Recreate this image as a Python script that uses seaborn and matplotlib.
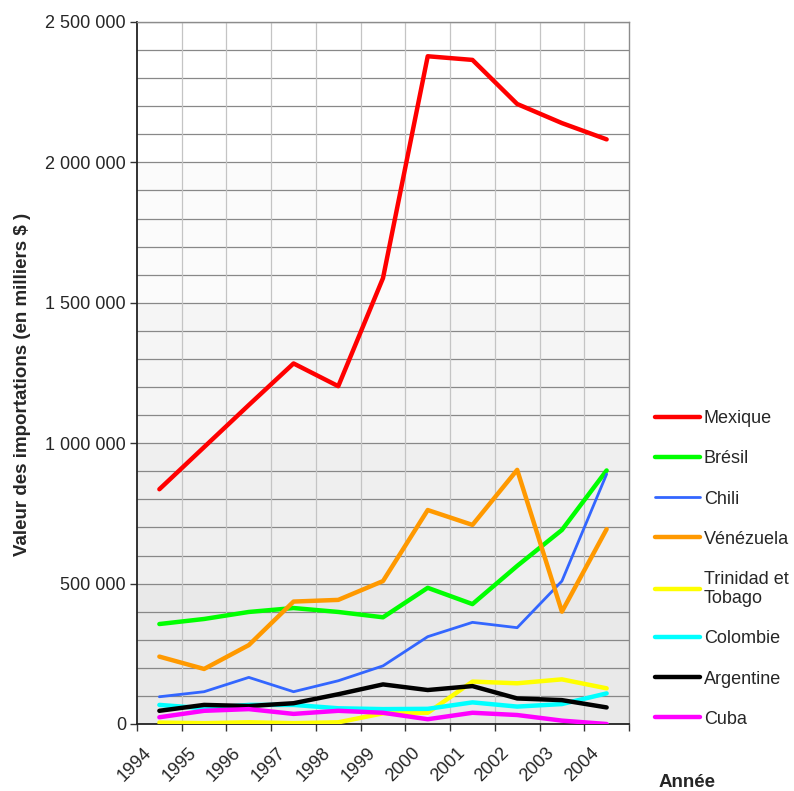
import numpy as np
import pandas as pd
import matplotlib.pyplot as plt
import matplotlib.transforms as mtransforms
import seaborn as sns
from matplotlib.ticker import FuncFormatter, MultipleLocator

# valeurs en milliers de $
annees = ['1994', '1995', '1996', '1997', '1998', '1999', '2000', '2001', '2002', '2003', '2004']
mexique = [836000, 986000, 1136000, 1284000, 1203000, 1588000, 2378000, 2365000, 2208000, 2140000, 2082000]
bresil = [356000, 374000, 399000, 413000, 399000, 380000, 485000, 427000, 563000, 691000, 903000]
chili = [97000, 115000, 166000, 115000, 154000, 207000, 311000, 362000, 343000, 509000, 890000]
venezuela = [240000, 196000, 281000, 436000, 442000, 509000, 762000, 709000, 905000, 400000, 694000]
trinidad = [5000, 3000, 6000, 3000, 6000, 38000, 40000, 151000, 145000, 159000, 127000]
colombie = [68000, 56000, 68000, 68000, 56000, 53000, 54000, 77000, 62000, 71000, 109000]
argentine = [47000, 68000, 64000, 74000, 106000, 141000, 121000, 135000, 91000, 85000, 59000]
cuba = [24000, 47000, 53000, 36000, 47000, 40000, 17000, 40000, 32000, 12000, 0]

pays = ['Mexique', 'Brésil', 'Chili', 'Vénézuela', 'Trinidad et\nTobago', 'Colombie', 'Argentine', 'Cuba']
valeurs = [mexique, bresil, chili, venezuela, trinidad, colombie, argentine, cuba]
couleurs = ['#ff0000', '#00ff00', '#3366ff', '#ff9900', '#ffff00', '#00ffff', '#000000', '#ff00ff']
epaisseurs = [3.2, 3.2, 2.0, 3.2, 3.2, 3.2, 3.2, 3.2]

sns.set_theme(style='white')
plt.rcParams['font.family'] = ['Liberation Sans', 'DejaVu Sans']

fig = plt.figure(figsize=(7.94, 7.91), dpi=100)
ax = fig.add_axes([137 / 794, 1 - 724 / 791, 492 / 794, 702 / 791])

# fond en bandes (dégradé)
bandes = ['#e9e9e9', '#efefef', '#f5f5f5', '#fbfbfb', '#ffffff']
for i, c in enumerate(bandes):
    ax.axhspan(i * 500000, (i + 1) * 500000, color=c, zorder=0, lw=0)

x = np.arange(len(annees)) + 0.5
for nom, vals, c, lw in zip(pays, valeurs, couleurs, epaisseurs):
    df = pd.DataFrame({'x': x, 'valeur': vals})
    sns.lineplot(data=df, x='x', y='valeur', color=c, linewidth=lw,
                 label=nom, ax=ax, zorder=3)

ax.set_xlim(0, len(annees))
ax.set_ylim(0, 2500000)

# grille
for v in range(100000, 2500001, 100000):
    ax.axhline(v, color='#888888', lw=0.9, zorder=1)
for i in range(1, len(annees)):
    ax.axvline(i, color='#c4c4c4', lw=0.9, zorder=1)

ax.yaxis.set_major_locator(MultipleLocator(500000))
ax.yaxis.set_major_formatter(FuncFormatter(lambda v, p: f'{int(v):,}'.replace(',', ' ')))
ax.set_xticks(np.arange(len(annees) + 1))
ax.set_xticklabels(annees + [''], rotation=45, ha='right', va='top', rotation_mode='anchor')

ax.tick_params(axis='both', labelsize=13, direction='out', length=5, width=1, color='#333333',
               left=True, bottom=True, pad=3)
ax.tick_params(axis='x', pad=9)

# léger décalage des années vers la droite
decal = mtransforms.ScaledTranslation(6 / 100, -1 / 100, fig.dpi_scale_trans)
for lab in ax.get_xticklabels():
    lab.set_transform(lab.get_transform() + decal)

for s in ['left', 'bottom']:
    ax.spines[s].set_color('#222222')
    ax.spines[s].set_linewidth(1.3)
for s in ['top', 'right']:
    ax.spines[s].set_color('#8c8c8c')
    ax.spines[s].set_linewidth(1.0)

ax.set_ylabel('Valeur des importations (en milliers $ )', fontsize=13.5, fontweight='bold')
ax.yaxis.set_label_coords(-0.215, 0.484)
ax.set_xlabel('Année', fontsize=13.5, fontweight='bold', va='center')
ax.xaxis.set_label_coords(1.118, -0.083)

ax.legend(loc='center left', bbox_to_anchor=(655 / 794, 1 - 569 / 791), bbox_transform=fig.transFigure,
          frameon=False, fontsize=13, handlelength=2.5, handletextpad=0.2,
          labelspacing=1.28, borderpad=0, borderaxespad=0)

fig.savefig('out.png', dpi=100)
